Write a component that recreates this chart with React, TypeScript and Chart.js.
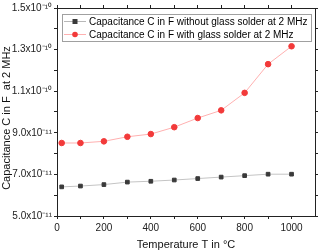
import React, { useEffect, useRef } from "react";
import { Chart, registerables } from "chart.js";

Chart.register(...registerables);

const temperatures = [20, 100, 200, 300, 400, 500, 600, 700, 800, 900, 1000];
const withoutSolder = [6.40e-11, 6.44e-11, 6.51e-11, 6.63e-11, 6.67e-11, 6.73e-11, 6.80e-11, 6.87e-11, 6.94e-11, 7.01e-11, 7.01e-11];
const withSolder = [8.51e-11, 8.51e-11, 8.59e-11, 8.81e-11, 8.94e-11, 9.27e-11, 9.71e-11, 10.08e-11, 10.92e-11, 12.30e-11, 13.16e-11];
const seriesLabels = [
  "Capacitance C in F without glass solder at 2 MHz",
  "Capacitance C in F with glass solder at 2 MHz",
];
const xTicks = [0, 100, 200, 300, 400, 500, 600, 700, 800, 900, 1000];
const xLabelTicks = [0, 200, 400, 600, 800, 1000];
const yTicks = [5e-11, 6e-11, 7e-11, 8e-11, 9e-11, 10e-11, 11e-11, 12e-11, 13e-11, 14e-11, 15e-11];
const yLabelTicks = [5e-11, 7e-11, 9e-11, 11e-11, 13e-11, 15e-11];
const xTitle = "Temperature T in °C";
const yTitle = "Capacitance C in F  at 2 MHz";

const FONT = "'Liberation Sans', Arial, sans-serif";
const sup: Record<string, string> = { "-": "⁻", "0": "⁰", "1": "¹", "2": "²", "3": "³", "4": "⁴", "5": "⁵", "6": "⁶", "7": "⁷", "8": "⁸", "9": "⁹" };

function fmtSci(v: number): string {
  const e = Math.floor(Math.log10(v) + 1e-9);
  const m = v / Math.pow(10, e);
  const es = String(e).split("").map((c) => sup[c] || c).join("");
  return m.toFixed(1) + "x10" + es;
}

function near(list: number[], v: number, tol: number) {
  return list.some((t) => Math.abs(t - v) < tol);
}

const legendPlugin = {
  id: "insideLegend",
  afterDraw(chart: any) {
    const ctx = chart.ctx as CanvasRenderingContext2D;
    const a = chart.chartArea;
    // y axis title
    ctx.save();
    ctx.translate(7, (a.top + a.bottom) / 2 + 6);
    ctx.rotate(-Math.PI / 2);
    ctx.font = "11px " + FONT;
    ctx.fillStyle = "#111";
    ctx.textAlign = "center";
    ctx.textBaseline = "middle";
    ctx.fillText(yTitle, 0, 0);
    ctx.restore();

    const x0 = a.left + 5;
    const y0 = a.top + 6;
    const w = a.right - 4 - x0;
    const h = 27;
    ctx.save();
    ctx.fillStyle = "#ffffff";
    ctx.fillRect(x0, y0, w, h);
    ctx.strokeStyle = "#a0a0a0";
    ctx.lineWidth = 1;
    ctx.strokeRect(x0 + 0.5, y0 + 0.5, w, h);
    const items = [
      { line: "#b8b8b8", color: "#3a3a3a", square: true },
      { line: "#ffb0b0", color: "#f23a3a", square: false },
    ];
    ctx.font = "10px " + FONT;
    ctx.textBaseline = "middle";
    items.forEach((it, i) => {
      const cy = y0 + 7.5 + i * 13;
      ctx.strokeStyle = it.line;
      ctx.beginPath();
      ctx.moveTo(x0 + 2, cy);
      ctx.lineTo(x0 + 24, cy);
      ctx.stroke();
      ctx.fillStyle = it.color;
      if (it.square) {
        ctx.fillRect(x0 + 13 - 2.5, cy - 2.5, 5, 5);
      } else {
        ctx.beginPath();
        ctx.arc(x0 + 13, cy, 2.8, 0, Math.PI * 2);
        ctx.fill();
      }
      ctx.fillStyle = "#000";
      ctx.fillText(seriesLabels[i], x0 + 27, cy + 0.5);
    });
    ctx.restore();
  },
};

export default function App() {
  const ref = useRef<HTMLCanvasElement>(null);
  useEffect(() => {
    document.body.style.margin = "0";
    const canvas = ref.current!;
    const axisColor = "#222";
    const grid = {
      display: true,
      drawOnChartArea: false,
      drawTicks: true,
      tickLength: 3,
      tickColor: axisColor,
      color: axisColor,
    };
    const border = { display: true, color: axisColor, width: 1 };
    const chart = new Chart(canvas, {
      type: "line",
      data: {
        datasets: [
          {
            label: seriesLabels[0],
            data: temperatures.map((t, i) => ({ x: t, y: withoutSolder[i] })),
            borderColor: "#c4c4c4",
            backgroundColor: "#3a3a3a",
            pointBackgroundColor: "#3a3a3a",
            pointBorderColor: "#3a3a3a",
            pointStyle: "rect",
            pointRadius: 2.6,
            borderWidth: 1,
          },
          {
            label: seriesLabels[1],
            data: temperatures.map((t, i) => ({ x: t, y: withSolder[i] })),
            borderColor: "#ffb0b0",
            backgroundColor: "#f23a3a",
            pointBackgroundColor: "#f23a3a",
            pointBorderColor: "#f23a3a",
            pointStyle: "circle",
            pointRadius: 2.8,
            borderWidth: 1,
          },
        ],
      },
      options: {
        animation: false,
        responsive: false,
        maintainAspectRatio: false,
        layout: { padding: 0 },
        plugins: { legend: { display: false }, tooltip: { enabled: false } },
        scales: {
          x: {
            type: "linear",
            position: "bottom",
            min: 0,
            max: 1100,
            afterBuildTicks: (s: any) => { s.ticks = xTicks.map((v) => ({ value: v })); },
            afterFit: (s: any) => { s.height = 36; },
            grid,
            border,
            ticks: {
              autoSkip: false,
              maxRotation: 0,
              padding: 3,
              color: "#222",
              font: { family: FONT, size: 10 },
              callback: (v: any) => (near(xLabelTicks, Number(v), 1) ? String(v) : ""),
            },
            title: { display: true, text: xTitle, color: "#111", font: { family: FONT, size: 11 }, padding: { top: 3, bottom: 0 } },
          },
          x2: {
            type: "linear",
            position: "top",
            min: 0,
            max: 1100,
            afterBuildTicks: (s: any) => { s.ticks = xTicks.map((v) => ({ value: v })); },
            afterFit: (s: any) => { s.height = 7; },
            grid,
            border,
            ticks: { display: false },
          },
          y: {
            type: "linear",
            position: "left",
            min: 5e-11,
            max: 1.5e-10,
            afterBuildTicks: (s: any) => { s.ticks = yTicks.map((v) => ({ value: v })); },
            afterFit: (s: any) => { s.width = 57; },
            grid,
            border,
            ticks: {
              autoSkip: false,
              padding: 2,
              color: "#222",
              font: { family: FONT, size: 10 },
              callback: (v: any) => (near(yLabelTicks, Number(v), 1e-13) ? fmtSci(Number(v)) : ""),
            },
          },
          y2: {
            type: "linear",
            position: "right",
            min: 5e-11,
            max: 1.5e-10,
            afterBuildTicks: (s: any) => { s.ticks = yTicks.map((v) => ({ value: v })); },
            afterFit: (s: any) => { s.width = 4; },
            grid,
            border,
            ticks: { display: false },
          },
        },
      },
      plugins: [legendPlugin],
    } as any);
    return () => chart.destroy();
  }, []);
  return (
    <div style={{ position: "absolute", left: 0, top: 0, width: 320, height: 252, background: "#fff" }}>
      <canvas ref={ref} width={320} height={252} style={{ width: 320, height: 252 }} />
    </div>
  );
}
